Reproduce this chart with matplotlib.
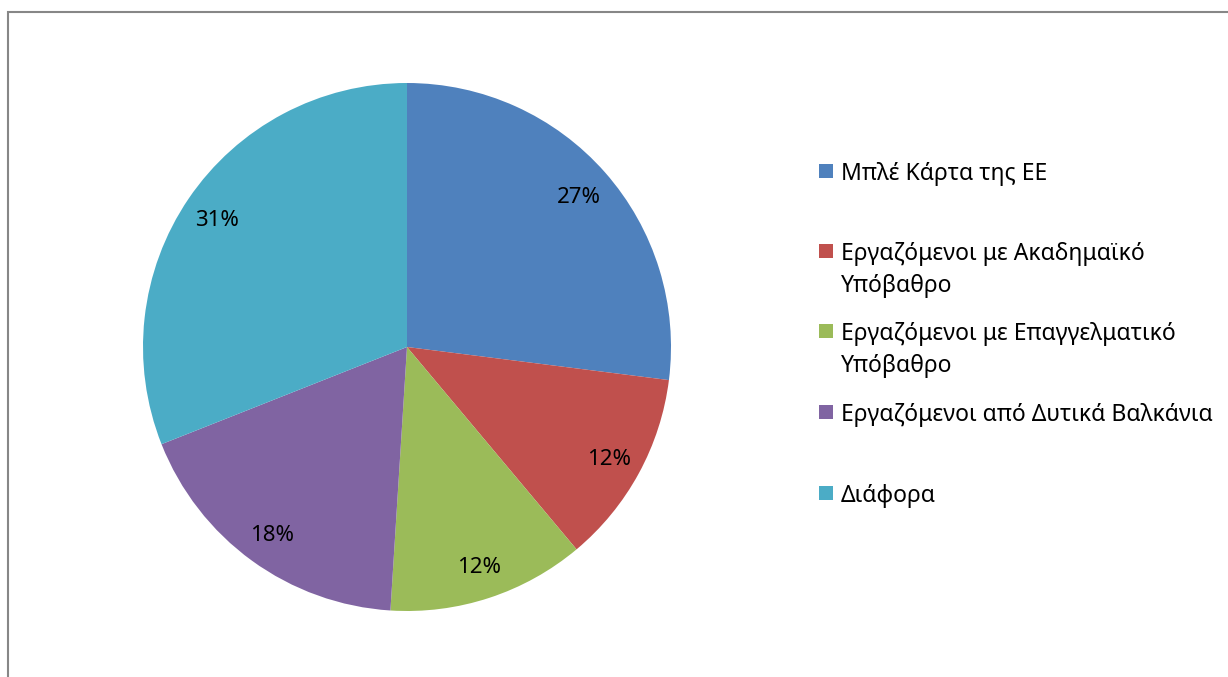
import matplotlib
matplotlib.use("Agg")
import matplotlib.pyplot as plt
from matplotlib.patches import Rectangle

plt.rcParams['font.family'] = ['Noto Sans', 'DejaVu Sans']

categories = ["Μπλέ Κάρτα της ΕΕ",
              "Εργαζόμενοι με Ακαδημαϊκό\nΥπόβαθρο",
              "Εργαζόμενοι με Επαγγελματικό\nΥπόβαθρο",
              "Εργαζόμενοι από Δυτικά Βαλκάνια",
              "Διάφορα"]
values = [27.0, 11.9, 12.1, 18.0, 31.0]
colors = ["#4F81BD", "#C0504D", "#9BBB59", "#8064A2", "#4BACC6"]

W, H = 1228, 677
fig = plt.figure(figsize=(W / 100, H / 100), dpi=100)

# chart border (left and top visible; right/bottom cropped)
fig.patches.append(Rectangle((8 / W, -1), 2, 1 - 12 / H + 1, transform=fig.transFigure,
                             fill=False, edgecolor="#878787", linewidth=1.5))

cx, cy, r = 407, 347, 264
ax = fig.add_axes([(cx - r) / W, 1 - (cy + r) / H, 2 * r / W, 2 * r / H])
wedges, texts, autotexts = ax.pie(values, colors=colors, startangle=90, counterclock=False,
                                  autopct=lambda p: f"{p:.0f}%", pctdistance=0.87,
                                  radius=1, wedgeprops=dict(linewidth=0),
                                  textprops=dict(fontsize=16, color="black"))
for t in autotexts:
    t.set_va("center_baseline")
ax.set_xlim(-1, 1)
ax.set_ylim(-1, 1)
ax.set_aspect("equal")
ax.axis("off")

# legend
legend_y = [171, 251, 331, 412, 493]
line_gap = 32
for lbl, col, y in zip(categories, colors, legend_y):
    fig.patches.append(Rectangle((819 / W, 1 - (y + 7) / H), 14 / W, 14 / H,
                                 transform=fig.transFigure, facecolor=col, edgecolor="none"))
    for i, line in enumerate(lbl.split("\n")):
        fig.text(841 / W, 1 - (y + i * line_gap) / H, line, fontsize=16.5,
                 va="center_baseline", ha="left")

fig.savefig("out.png", dpi=100)
